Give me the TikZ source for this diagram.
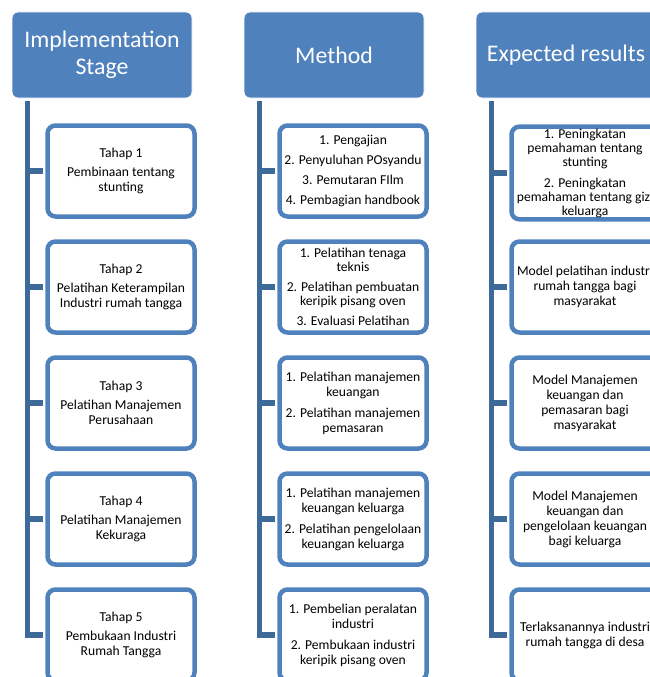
\documentclass[tikz,border=0pt]{standalone}
\usepackage{fontspec}
\setmainfont{Carlito}
\usetikzlibrary{calc}
\definecolor{headblue}{HTML}{4F81BD}
\definecolor{trunkblue}{HTML}{3D6A99}

\begin{document}
\begin{tikzpicture}[x=1pt,y=-1pt,
   head/.style={fill=headblue, draw=white, line width=0.8pt, rounded corners=6pt,
     minimum width=180pt, minimum height=86pt, text=white, align=center,
     font=\fontsize{23.8}{27}\selectfont},
   item/.style={draw=headblue, fill=white, line width=4.5pt, rounded corners=8pt,
     minimum width=147pt, minimum height=91pt, inner sep=2pt, align=center,
     font=\fontsize{13.6}{15}\selectfont},
   snug/.style={font=\fontsize{13.6}{14}\selectfont},
   trunk/.style={draw=trunkblue, line width=5.5pt, shorten >=2pt}]
   \useasboundingbox (0,0) rectangle (649,677);
   \node[head] (h1) at (102,55) {Implementation\\Stage};
   \node[head] (h2) at (334,55) {Method};
   \node[head] (h3) at (566,55) {Expected results};
   \foreach \c in {1,2,3}
    \coordinate (t\c) at ($(h\c.south west)+(16,3)$);
   \node[item] (s1) at (121,171) {Tahap 1\\[4pt]Pembinaan tentang\\stunting};
   \node[item] (s2) at (121,287) {Tahap 2\\[4pt]Pelatihan Keterampilan\\Industri rumah tangga};
   \node[item] (s3) at (121,403) {Tahap 3\\[4pt]Pelatihan Manajemen\\Perusahaan};
   \node[item] (s4) at (121,519) {Tahap 4\\[4pt]Pelatihan Manajemen\\Kekuraga};
   \node[item] (s5) at (121,635) {Tahap 5\\[4pt]Pembukaan Industri\\Rumah Tangga};
   \node[item] (m1) at (353,171) {1. Pengajian\\[5pt]2. Penyuluhan POsyandu\\[5pt]3. Pemutaran FIlm\\[5pt]4. Pembagian handbook};
   \node[item,snug] (m2) at (353,287) {1. Pelatihan tenaga\\teknis\\[6pt]2. Pelatihan pembuatan\\keripik pisang oven\\[6pt]3. Evaluasi Pelatihan};
   \node[item] (m3) at (353,403) {1. Pelatihan manajemen\\keuangan\\[6pt]2. Pelatihan manajemen\\pemasaran};
   \node[item] (m4) at (353,519) {1. Pelatihan manajemen\\keuangan keluarga\\[6pt]2. Pelatihan pengelolaan\\keuangan keluarga};
   \node[item] (m5) at (353,635) {1. Pembelian peralatan\\industri\\[6pt]2. Pembukaan industri\\keripik pisang oven};
   \node[item,snug] (r1) at (585,173) {1. Peningkatan\\pemahaman tentang\\stunting\\[7pt]2. Peningkatan\\pemahaman tentang gizi\\keluarga};
   \node[item] (r2) at (585,287) {Model pelatihan industri\\rumah tangga bagi\\masyarakat};
   \node[item] (r3) at (585,403) {Model Manajemen\\keuangan dan\\pemasaran bagi\\masyarakat};
   \node[item] (r4) at (585,519) {Model Manajemen\\keuangan dan\\pengelolaan keuangan\\bagi keluarga};
   \node[item] (r5) at (585,635) {Terlaksanannya industri\\rumah tangga di desa};
   \foreach \c/\b in {1/s, 2/m, 3/r} {
    \draw[trunk] (t\c) |- (\b5.west);
    \foreach \i in {1,...,4}
     \draw[trunk] (t\c |- \b\i.west) -- (\b\i.west);
   }
 \end{tikzpicture}
\end{document}
